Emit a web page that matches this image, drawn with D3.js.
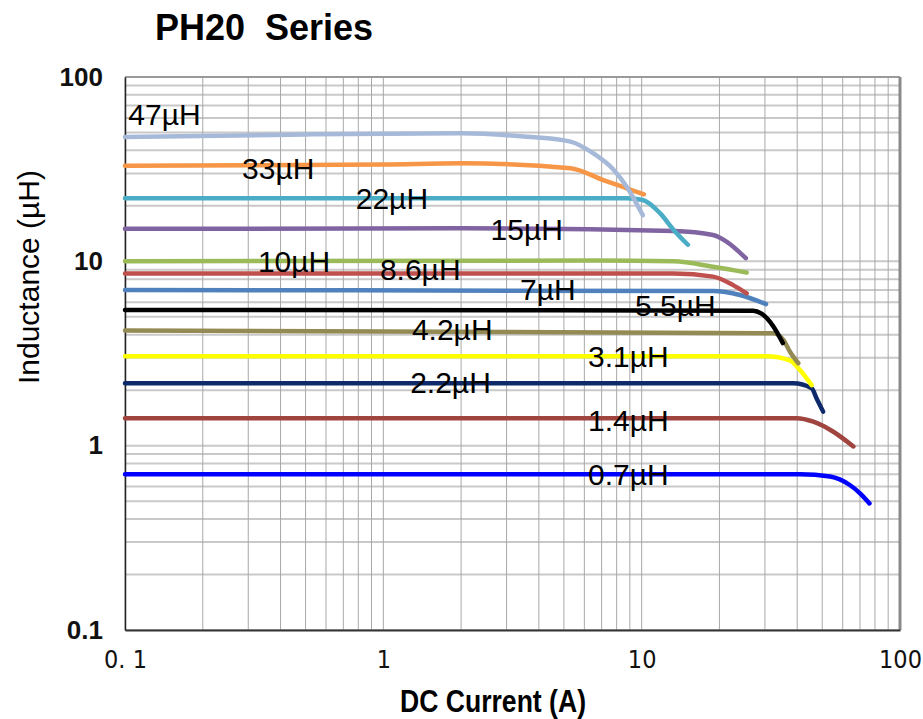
<!DOCTYPE html>
<html>
<head>
<meta charset="utf-8">
<script src="https://cdn.jsdelivr.net/npm/d3@7"></script>
<style>
  body { margin: 0; background: #fff; }
  svg { display: block; }
</style>
</head>
<body>
<div class="container"></div>
<script>
// Data: [DC current (A), inductance (µH)]
var names = ["47µH", "33µH", "22µH", "15µH", "10µH", "8.6µH", "7µH",
             "5.5µH", "4.2µH", "3.1µH", "2.2µH", "1.4µH", "0.7µH"];

var s47  = [[0.1,47.2],[0.5,48.8],[2,49.5],[3.6,47.4],[5.3,44.6],[6.5,38.5],[7.8,31.3],[8.75,25.4],[10.1,17.8]];
var s33  = [[0.1,33],[1,33.5],[2,34],[5.3,32],[7.1,27.6],[8.75,24.9],[10.2,23.1]];
var s22  = [[0.1,22],[2,22],[8.75,22],[10.1,21.5],[11.8,18.2],[13.3,14.8],[15.1,12.3]];
var s15  = [[0.1,15],[2,15.1],[13.3,14.6],[18.9,13.9],[21.3,12.8],[25.3,10.4]];
var s10  = [[0.1,10],[6.5,10.1],[13.3,10],[18.9,9.35],[25.5,8.7]];
var s8_6 = [[0.1,8.6],[13.3,8.6],[18.9,8.26],[22.6,7.43],[25.5,6.7]];
var s7   = [[0.1,6.98],[18.9,6.9],[24,6.57],[30.3,5.86]];
var s5_5 = [[0.1,5.45],[27,5.4],[29.1,5.2],[32.4,4.42],[35.2,3.6]];
var s4_2 = [[0.1,4.22],[32.4,4.07],[35.4,3.74],[37.5,3.23],[40.4,2.8]];
var s3_1 = [[0.1,3.06],[30.5,3.06],[37.5,2.9],[41,2.57],[45.5,2.13]];
var s2_2 = [[0.1,2.18],[38.6,2.18],[45.5,2.05],[47.5,1.81],[50.4,1.53]];
var s1_4 = [[0.1,1.41],[39.8,1.41],[46.2,1.35],[55.2,1.19],[66,0.99]];
var s0_7 = [[0.1,0.7],[41,0.7],[53.6,0.68],[64.1,0.61],[70.2,0.55],[76.2,0.486]];

var seriesList = [s47, s33, s22, s15, s10, s8_6, s7, s5_5, s4_2, s3_1, s2_2, s1_4, s0_7];

// where each label sits, in data units [current, inductance at baseline]
var labelAt = [[0.103,54.9],[0.284,28],[0.782,19.2],[2.6,13.05],[0.327,8.72],[0.97,7.92],[3.38,6.17],
               [9.43,5.05],[1.29,3.74],[6.2,2.68],[1.27,1.93],[6.2,1.205],[6.2,0.611]];

var xTicks = [0.1, 1, 10, 100];
var xTickText = ["0. 1", "1", "10", "100"];
var yTicks = [0.1, 1, 10, 100];
var yTickText = ["0.1", "1", "10", "100"];

var colors = ["#a7b9d9", "#f79646", "#4bacc6", "#8064a2", "#9bbb59", "#c0504d", "#4f81bd",
              "#000000", "#948a54", "#ffff00", "#0f2a6b", "#a0443f", "#0000ff"];

//Definition margin
var W = 923, H = 719;
var margin = {top: 77, right: 23, bottom: 89, left: 125},
    width = W - margin.left - margin.right,
    height = H - margin.top - margin.bottom;

var x = d3.scaleLog().domain([0.1, 100]).range([0, width]);
var y = d3.scaleLog().domain([0.1, 100]).range([height, 0]);

var svg = d3.select(".container").append("svg")
    .attr("width", W)
    .attr("height", H);

var g = svg.append("g")
    .attr("transform", "translate(" + margin.left + "," + margin.top + ")");

// minor + major grid values 1..9 per decade
var gridVals = [];
[0.1, 1, 10].forEach(function(d) {
  for (var k = 1; k <= 9; k++) gridVals.push(+(d * k).toPrecision(3));
});
gridVals.push(100);

// horizontal grid (light, thicker)
g.append("g").attr("class", "hgrid")
  .selectAll("line").data(gridVals).enter().append("line")
    .attr("x1", 0).attr("x2", width)
    .attr("y1", function(d) { return y(d); })
    .attr("y2", function(d) { return y(d); })
    .attr("stroke", "#c9c9c9")
    .attr("stroke-width", 2);

// vertical grid (thin, darker)
g.append("g").attr("class", "vgrid")
  .selectAll("line").data(gridVals).enter().append("line")
    .attr("y1", 0).attr("y2", height)
    .attr("x1", function(d) { return x(d); })
    .attr("x2", function(d) { return x(d); })
    .attr("stroke", "#a8a8a8")
    .attr("stroke-width", 1);

// frame
g.append("line").attr("x1", 0).attr("x2", width).attr("y1", 0).attr("y2", 0)
  .attr("stroke", "#9a9a9a").attr("stroke-width", 2);
g.append("line").attr("x1", width).attr("x2", width).attr("y1", 0).attr("y2", height)
  .attr("stroke", "#8a8a8a").attr("stroke-width", 3);

// axes
var xAxis = d3.axisBottom(x).tickValues(xTicks).tickSize(0).tickPadding(20)
    .tickFormat(function(d, i) { return xTickText[i]; });
var yAxis = d3.axisLeft(y).tickValues(yTicks).tickSize(0).tickPadding(22)
    .tickFormat(function(d, i) { return yTickText[i]; });

var gx = g.append("g").attr("transform", "translate(0," + height + ")").call(xAxis);
gx.select(".domain").attr("stroke", "#333").attr("stroke-width", 2);
gx.selectAll("text")
  .style("font-family", "'DejaVu Sans Condensed', 'Liberation Sans Narrow', sans-serif")
  .style("font-size", "25px")
  .attr("fill", "#111");

var gy = g.append("g").call(yAxis);
gy.select(".domain").attr("stroke", "#222").attr("stroke-width", 1.5);
gy.selectAll("text")
  .style("font-family", "'Liberation Sans', Arial, sans-serif")
  .style("font-size", "26px")
  .style("font-weight", "bold")
  .attr("fill", "#111");

// curves
var line = d3.line()
    .x(function(d) { return x(d[0]); })
    .y(function(d) { return y(d[1]); })
    .curve(d3.curveMonotoneX);

var order = d3.range(seriesList.length).reverse(); // small values first, big on top
g.append("g").attr("class", "curves")
  .selectAll("path").data(order).enter().append("path")
    .attr("d", function(i) { return line(seriesList[i]); })
    .attr("fill", "none")
    .attr("stroke", function(i) { return colors[i]; })
    .attr("stroke-width", 4.5)
    .attr("stroke-linecap", "round")
    .attr("stroke-linejoin", "round");

// curve labels
g.append("g").attr("class", "labels")
  .selectAll("text").data(names).enter().append("text")
    .attr("x", function(d, i) { return x(labelAt[i][0]); })
    .attr("y", function(d, i) { return y(labelAt[i][1]); })
    .style("font-family", "'Liberation Sans', Arial, sans-serif")
    .style("font-size", "30px")
    .attr("fill", "#000")
    .text(function(d) { return d; });

// titles
svg.append("text")
  .attr("x", 264).attr("y", 40)
  .attr("text-anchor", "middle")
  .style("white-space", "pre")
  .style("font-family", "'Liberation Sans', Arial, sans-serif")
  .style("font-size", "36px")
  .style("font-weight", "bold")
  .text("PH20  Series");

svg.append("text")
  .attr("x", 493).attr("y", 712)
  .attr("text-anchor", "middle")
  .attr("textLength", 186)
  .attr("lengthAdjust", "spacingAndGlyphs")
  .style("font-family", "'Liberation Sans', Arial, sans-serif")
  .style("font-size", "31px")
  .style("font-weight", "bold")
  .text("DC Current (A)");

svg.append("text")
  .attr("transform", "translate(39,277) rotate(-90)")
  .attr("text-anchor", "middle")
  .style("font-family", "'Liberation Sans', Arial, sans-serif")
  .style("font-size", "30px")
  .text("Inductance (µH)");
</script>
</body>
</html>
